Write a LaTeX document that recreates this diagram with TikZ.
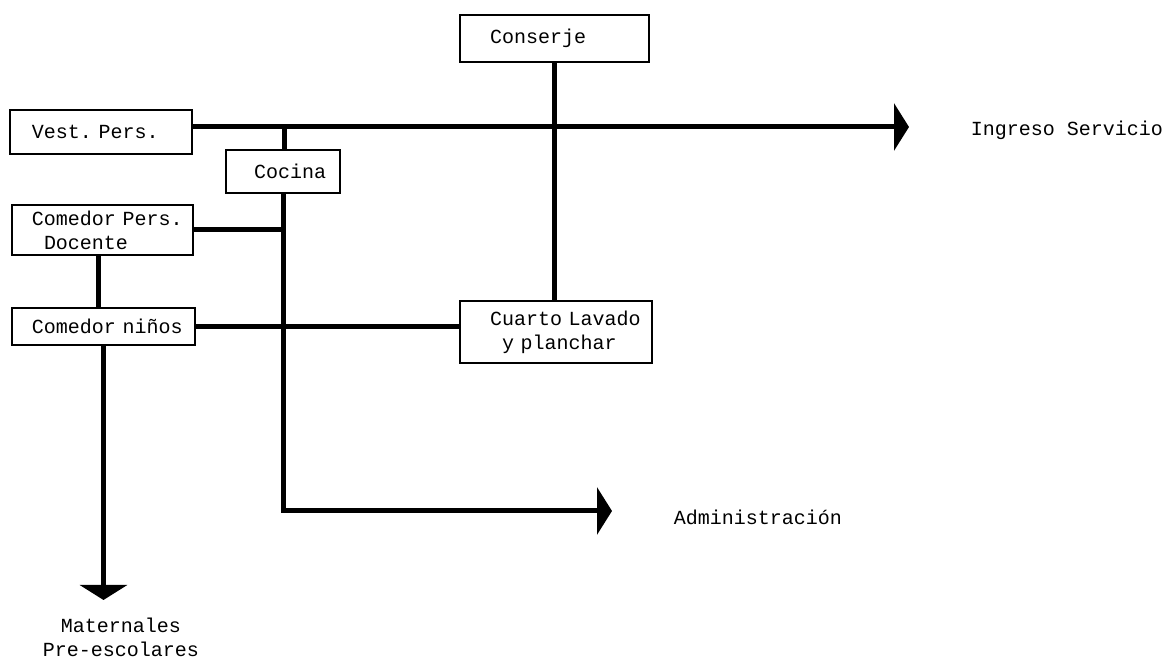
\documentclass[tikz,border=0pt]{standalone}
\usepackage{fontspec}
\setmonofont{Liberation Mono}
\usetikzlibrary{positioning, calc, arrows.meta}
\begin{document}
\begin{tikzpicture}
    [x=0.5pt, y=-0.5pt,
    roomnode/.style args={#1/#2}{rectangle, draw=black, line width=0.9pt, font=\ttfamily, align=left, text width=#1, inner xsep=#2, inner ysep=0pt},
    exitnode/.style={font=\ttfamily, align=center},
    heavyline/.style={line width=2.5pt},
    exitarrow/.style={line width=2.5pt, -{Triangle[length=7.5pt, width=23.5pt]}},]

    \useasboundingbox (0,0) rectangle (1169,657);

    %Nodes
    \node[roomnode={69pt/11pt}, minimum height=22pt](vest) at (101,132){Vest.~Pers.};
    \node[roomnode={29pt/14pt}, minimum height=21.5pt](cocina) at (283,171.5){Cocina};
    \node[roomnode={70.5pt/10pt}, minimum height=25pt](docente) at (102.5,230){Comedor~Pers.\\\hspace*{6pt}Docente};
    \node[roomnode={71.5pt/10pt}, minimum height=18.5pt](ninos) at (103.5,326.5){Comedor~niños};
    \node[roomnode={64.5pt/15pt}, minimum height=23.5pt](conserje) at (554.5,38.5){Conserje};
    \node[roomnode={66pt/15pt}, minimum height=31pt](cuarto) at (556,332){Cuarto~Lavado\\\hspace*{6pt}y~planchar};

    \node[exitnode](ingreso) at (1067,130){Ingreso Servicio};
    \node[exitnode](admin) at (758,517){Administración};
    \node[exitnode](maternales) at (121,637){Maternales\\Pre-escolares};

    \coordinate (jmain) at (284,127);
    \coordinate (ingresotip) at (909,127);
    \coordinate (admintip) at (612,511);
    \coordinate (maternalestip) at (103.5,600);

    %Lines
    \draw[exitarrow](vest.east |- jmain)--(ingresotip);
    \draw[heavyline](jmain)--(jmain |- cocina.north);
    \draw[exitarrow](cocina.south) |- (admintip);
    \draw[heavyline](docente.east)--(docente.east -| cocina.south);
    \draw[heavyline]([xshift=-2pt]docente.south)--([xshift=-2pt]docente.south |- ninos.north);
    \draw[exitarrow](ninos.south)--(ninos.south |- maternalestip);
    \draw[heavyline](ninos.east)--(ninos.east -| cuarto.west);
    \draw[heavyline](conserje.south)--(conserje.south |- cuarto.north);
\end{tikzpicture}
\end{document}
